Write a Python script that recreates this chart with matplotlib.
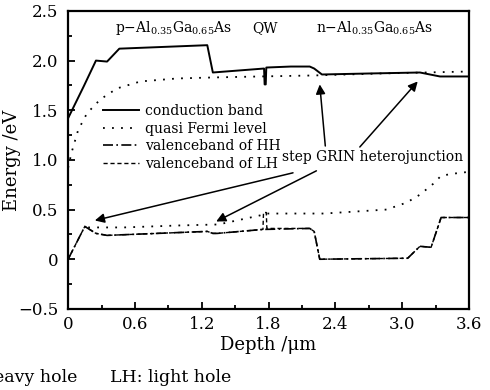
import matplotlib
matplotlib.use('Agg')
import matplotlib.pyplot as plt
from matplotlib.ticker import MultipleLocator

plt.rcParams['font.family'] = ['DejaVu Serif']
plt.rcParams['mathtext.fontset'] = 'dejavuserif'

# conduction band
cb_x = [0, 0.14, 0.25, 0.35, 0.46, 1.25, 1.30, 1.76, 1.765, 1.775, 1.78, 2.0, 2.17, 2.21, 2.28, 2.7, 3.16, 3.34, 3.6]
cb_y = [1.42, 1.74, 2.00, 1.99, 2.12, 2.155, 1.88, 1.92, 1.76, 1.76, 1.93, 1.94, 1.94, 1.92, 1.86, 1.87, 1.88, 1.84, 1.84]

# electron quasi Fermi level
ef_x = [0, 0.03, 0.09, 0.17, 0.29, 0.44, 0.65, 0.98, 1.3, 1.72, 2.2, 2.8, 3.2, 3.6]
ef_y = [0.92, 1.07, 1.30, 1.47, 1.61, 1.72, 1.79, 1.82, 1.83, 1.84, 1.85, 1.87, 1.88, 1.89]

# hole quasi Fermi level
hf_x = [0.18, 0.5, 1.0, 1.35, 1.72, 1.78, 2.3, 2.86, 3.04, 3.16, 3.28, 3.35, 3.45, 3.6]
hf_y = [0.32, 0.32, 0.34, 0.35, 0.44, 0.46, 0.46, 0.50, 0.57, 0.65, 0.76, 0.84, 0.86, 0.88]

# valence band, heavy hole
hh_x = [0, 0.15, 0.25, 0.35, 1.25, 1.30, 1.34, 1.75, 2.17, 2.21, 2.26, 3.05, 3.16, 3.26, 3.35, 3.6]
hh_y = [0, 0.33, 0.26, 0.24, 0.28, 0.26, 0.26, 0.30, 0.31, 0.28, 0.0, 0.01, 0.13, 0.12, 0.42, 0.42]

# valence band, light hole
lh_x = [0, 0.15, 0.25, 0.35, 1.25, 1.30, 1.34, 1.75, 1.755, 1.78, 1.785, 2.17, 2.21, 2.26, 3.05, 3.16, 3.26, 3.35, 3.6]
lh_y = [0, 0.33, 0.26, 0.24, 0.28, 0.26, 0.26, 0.30, 0.47, 0.47, 0.31, 0.31, 0.28, 0.0, 0.01, 0.13, 0.12, 0.42, 0.42]

x_ticks = [0, 0.6, 1.2, 1.8, 2.4, 3.0, 3.6]
x_labels = ['0', '0.6', '1.2', '1.8', '2.4', '3.0', '3.6']
y_ticks = [-0.5, 0, 0.5, 1.0, 1.5, 2.0, 2.5]
y_labels = ['\u22120.5', '0', '0.5', '1.0', '1.5', '2.0', '2.5']

fig = plt.figure(figsize=(4.9, 3.9), dpi=100)
ax = fig.add_axes([0.139, 0.208, 0.818, 0.764])

ax.plot(cb_x, cb_y, color='black', lw=1.4, label='conduction band')
ax.plot(ef_x, ef_y, color='black', lw=1.3, ls=(0, (1, 4)), label='quasi Fermi level')
ax.plot(hf_x, hf_y, color='black', lw=1.3, ls=(0, (1, 4)))
ax.plot(hh_x, hh_y, color='black', lw=1.2, ls=(0, (6, 2, 1, 2)), label='valenceband of HH')
ax.plot(lh_x, lh_y, color='black', lw=1.0, ls=(0, (3, 2)), label='valenceband of LH')

ax.set_xlim(0, 3.6)
ax.set_ylim(-0.5, 2.5)
ax.set_xticks(x_ticks)
ax.set_xticklabels(x_labels)
ax.set_yticks(y_ticks)
ax.set_yticklabels(y_labels)
ax.xaxis.set_minor_locator(MultipleLocator(0.3))
ax.yaxis.set_minor_locator(MultipleLocator(0.25))
ax.tick_params(which='both', direction='in', labelsize=12, width=1.3)
ax.tick_params(which='major', length=5)
ax.tick_params(which='minor', length=3)
ax.tick_params(axis='y', pad=7)
ax.tick_params(axis='x', pad=5)
for s in ax.spines.values():
    s.set_linewidth(1.6)

ax.set_xlabel('Depth /\u03bcm', fontsize=13, labelpad=2)
ax.set_ylabel('Energy /eV', fontsize=13)
ax.yaxis.set_label_coords(-0.118, 0.5)

ax.legend(loc='upper left', bbox_to_anchor=(0.07, 0.71), frameon=False, fontsize=10,
          handlelength=2.6, handletextpad=0.4, labelspacing=0.25, borderpad=0)

ax.text(0.95, 2.33, r'p$-$Al$_{0.35}$Ga$_{0.65}$As', fontsize=10, ha='center', va='center')
ax.text(1.77, 2.33, 'QW', fontsize=10, ha='center', va='center')
ax.text(2.75, 2.33, r'n$-$Al$_{0.35}$Ga$_{0.65}$As', fontsize=10, ha='center', va='center')

ax.text(2.73, 1.03, 'step GRIN heterojunction', fontsize=10, ha='center', va='center')
arw = dict(arrowstyle='-|>', color='black', lw=1.1, mutation_scale=14, shrinkA=0, shrinkB=0)
ax.annotate('', xy=(2.26, 1.76), xytext=(2.31, 1.14), arrowprops=arw)
ax.annotate('', xy=(3.14, 1.79), xytext=(2.62, 1.13), arrowprops=arw)
ax.annotate('', xy=(0.24, 0.39), xytext=(2.02, 0.87), arrowprops=arw)
ax.annotate('', xy=(1.33, 0.38), xytext=(2.23, 0.89), arrowprops=arw)

fig.text(77 / 490, 1 - 378 / 390, 'HH: heavy hole', fontsize=12.5, ha='right', va='center')
fig.text(110 / 490, 1 - 378 / 390, 'LH: light hole', fontsize=12.5, ha='left', va='center')

fig.savefig('out.png', dpi=100)
